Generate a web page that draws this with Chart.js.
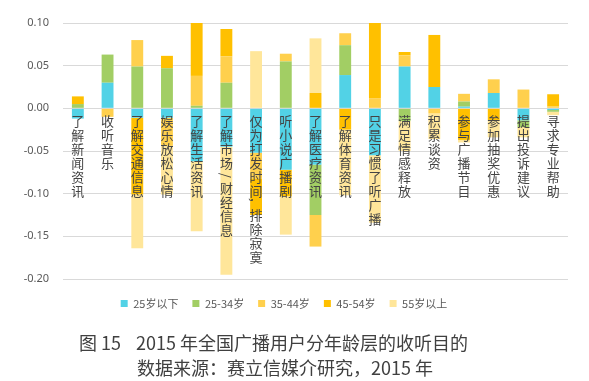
<!DOCTYPE html>
<html lang="zh">
<head>
    <meta charset="UTF-8">
    <title>2015年全国广播用户分年龄层的收听目的</title>
    <script src="https://cdn.jsdelivr.net/npm/chart.js"></script>
    <style>
        html, body { margin: 0; padding: 0; background: #fff; }
        #wrap { width: 589px; height: 381px; position: relative; }
    </style>
</head>
<body>
<div id="wrap"><canvas id="ageChart" width="589" height="381"></canvas></div>
<script>
    // categories (listening purposes)
    var purposes = ['了解新闻资讯', '收听音乐', '了解交通信息', '娱乐放松心情', '了解生活资讯',
        '了解市场/财经信息', '仅为打发时间，排除寂寞', '听小说广播剧', '了解医疗资讯', '了解体育资讯',
        '只是习惯了听广播', '满足情感释放', '积累谈资', '参与广播节目', '参加抽奖优惠',
        '提出投诉建议', '寻求专业帮助'];

    var ageGroups = ['25岁以下', '25-34岁', '35-44岁', '45-54岁', '55岁以上'];

    // values, one array per age group
    var under25 = [-0.012, 0.030, -0.011, -0.011, -0.062, -0.045, -0.052, -0.072, -0.066, 0.039, -0.055, 0.049, 0.025, 0.002, 0.018, -0.014, -0.002];
    var age25to34 = [0.005, 0.033, 0.049, 0.047, 0.003, 0.030, 0, 0.055, -0.059, 0.035, 0, -0.015, 0, 0.006, 0, -0.008, -0.002];
    var age35to44 = [0, -0.010, 0.031, -0.033, 0.035, 0.031, -0.030, 0.009, -0.037, 0.014, 0.012, 0.013, -0.006, 0.009, 0.016, 0.022, 0.002];
    var age45to54 = [0.009, 0, -0.090, 0.0145, 0.062, 0.032, -0.043, -0.031, 0.018, -0.025, 0.088, 0.004, 0.061, -0.037, -0.014, 0, 0.0145];
    var over55 = [0, 0, -0.063, -0.057, -0.082, -0.150, 0.067, -0.045, 0.064, -0.077, -0.079, -0.035, -0.030, -0.003, -0.020, -0.012, -0.004];

    var yTicks = [0.10, 0.05, 0.00, -0.05, -0.10, -0.15, -0.20];

    var colors = ['#52D2E6', '#A2CE64', '#FFD04D', '#FFC000', '#FFE69A'];
    var series = [under25, age25to34, age35to44, age45to54, over55];

    var cjk = '"Noto Sans CJK SC", "Noto Sans", sans-serif';

    // purpose names written downwards from the zero line
    var verticalLabels = {
        id: 'verticalLabels',
        afterDatasetsDraw: function(chart) {
            var ctx = chart.ctx;
            var xs = chart.scales.x, ys = chart.scales.y;
            var y0 = ys.getPixelForValue(0);
            ctx.save();
            ctx.font = '13px ' + cjk;
            ctx.fillStyle = '#444';
            ctx.textAlign = 'center';
            ctx.textBaseline = 'middle';
            purposes.forEach(function(name, i) {
                var x = xs.getPixelForValue(i);
                var y = y0 + 13;
                Array.from(name).forEach(function(ch) {
                    if (ch === '/' || ch === '，') {
                        ctx.save();
                        ctx.translate(x, y - 2);
                        ctx.rotate(Math.PI / 2);
                        ctx.fillText(ch, 0, 0);
                        ctx.restore();
                        y += ch === '/' ? 11 : 10;
                    } else {
                        ctx.fillText(ch, x, y);
                        y += 14;
                    }
                });
            });
            ctx.restore();
        }
    };

    // caption under the legend
    var caption = {
        id: 'caption',
        afterDraw: function(chart) {
            var ctx = chart.ctx;
            ctx.save();
            ctx.font = '18px ' + cjk;
            ctx.fillStyle = '#404040';
            ctx.textBaseline = 'middle';
            ctx.textAlign = 'left';
            ctx.fillText('图 15', 79, 343);
            ctx.fillText('2015 年全国广播用户分年龄层的收听目的', 136, 343);
            ctx.fillText('数据来源：赛立信媒介研究，2015 年', 137, 368);
            ctx.restore();
        }
    };

    var ctx = document.getElementById('ageChart').getContext('2d');
    var ageChart = new Chart(ctx, {
        type: 'bar',
        data: {
            labels: purposes,
            datasets: ageGroups.map(function(g, k) {
                return {
                    label: g,
                    data: series[k],
                    backgroundColor: colors[k],
                    borderWidth: 0,
                    categoryPercentage: 1,
                    barPercentage: 0.4
                };
            })
        },
        options: {
            responsive: false,
            animation: false,
            layout: { padding: { top: 23, right: 21, bottom: 62, left: 0 } },
            plugins: {
                legend: {
                    position: 'bottom',
                    labels: {
                        boxWidth: 7,
                        boxHeight: 7,
                        padding: 14,
                        color: '#595959',
                        font: { size: 11, family: cjk }
                    }
                },
                tooltip: { enabled: false }
            },
            scales: {
                x: {
                    stacked: true,
                    ticks: { display: false },
                    grid: { display: false },
                    border: { display: false },
                    afterFit: function(s) { s.height = 5; }
                },
                y: {
                    stacked: true,
                    min: -0.20,
                    max: 0.10,
                    afterFit: function(s) { s.width = 63; },
                    afterBuildTicks: function(s) {
                        s.ticks = yTicks.map(function(v) { return { value: v }; });
                    },
                    ticks: {
                        padding: 14,
                        color: '#595959',
                        font: { size: 11, family: '"Noto Sans", sans-serif' },
                        callback: function(v) { return v.toFixed(2); }
                    },
                    grid: { color: '#D9D9D9', drawTicks: false },
                    border: { display: false }
                }
            }
        },
        plugins: [verticalLabels, caption]
    });
</script>
</body>
</html>
